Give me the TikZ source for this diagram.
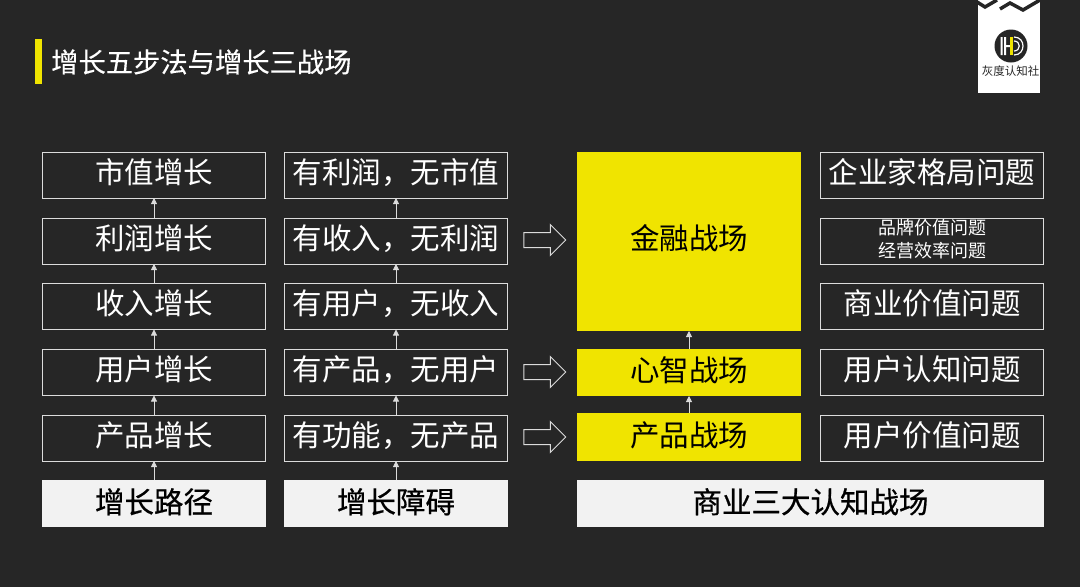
\documentclass[tikz,border=0pt]{standalone}
\usepackage{fontspec}
\setmainfont{Noto Sans CJK SC}
\newfontfamily\medfont[FakeBold=0.6]{Noto Sans CJK SC}
\newfontfamily\titlefont[FakeBold=0.3]{Noto Sans CJK SC}
\usetikzlibrary{shapes.arrows,arrows.meta}
\newcommand\fwc{^^^^ff0c}
\definecolor{bgc}{HTML}{262626}
\definecolor{ylw}{HTML}{F0E400}
\definecolor{lit}{HTML}{F2F2F2}
\definecolor{edge}{HTML}{DCDCDC}
\tikzset{
  x=1pt,y=-1pt,
  cellbase/.style={minimum width=223pt,inner sep=0pt,outer sep=0pt,align=center,font=\fontsize{29.5}{31}\selectfont},
  outline/.style={cellbase,draw=edge,line width=0.9pt,text=white,minimum height=46pt,text height=31pt,text depth=15pt},
  emptyoutline/.style={cellbase,draw=edge,line width=0.9pt,minimum height=46pt},
  smalltext/.style={inner sep=0pt,align=center,text=white,font=\fontsize{18}{22.5}\selectfont},
  solidy/.style={cellbase,fill=ylw,text=black},
  header/.style={cellbase,minimum width=224pt,fill=lit,text=black,minimum height=47pt,text height=33pt,text depth=14pt,font=\fontsize{29.5}{31}\selectfont\medfont},
  link/.style={draw=edge,line width=0.8pt,-{Triangle[length=6pt,width=6pt]}},
  hollow/.style={single arrow,draw=edge,line width=1pt,minimum height=42pt,text height=14pt,text depth=0pt,text width=20pt,single arrow head extend=8pt,single arrow tip angle=90,inner sep=0pt,outer sep=0pt}
}
\begin{document}
\begin{tikzpicture}
\useasboundingbox (0,0) rectangle (1080,587);
\fill[bgc] (0,0) rectangle (1080,587);
% title
\fill[ylw] (35,39) rectangle (42,84);
\node[anchor=west,inner sep=0pt,text=white,font=\fontsize{27.3}{30}\selectfont\titlefont] (title) at (51,62) {增长五步法与增长三战场};
% logo
\fill[white] (978,0) rectangle (1040,93);
\draw[bgc,line width=3.5pt,line join=miter] (977,2) -- (985,7) -- (997,0);
\draw[bgc,line width=3.5pt,line join=miter] (1000,9) -- (1010,3) -- (1023,10) -- (1040,0);
\fill[bgc] (1011,46) circle (16.5);
\fill[white] (1000.5,37) rectangle (1002.5,55) (1004,37) rectangle (1006,55) (1006,45) rectangle (1010,47);
\fill[ylw] (1010,37) rectangle (1013,55);
\draw[white,line width=1.2pt] (1014,37) .. controls (1026,37) and (1026,55) .. (1014,55);
\draw[white,line width=1.2pt] (1014,41) .. controls (1021,41) and (1021,51) .. (1014,51);
\node[inner sep=0pt,text=bgc,font=\fontsize{11.5}{12}\selectfont] (logotext) at (1010.5,71) {灰度认知社};
% column 1
\node[outline] (a5) at (154,175) {市值增长};
\node[outline] (a4) at (154,241) {利润增长};
\node[outline] (a3) at (154,306.5) {收入增长};
\node[outline] (a2) at (154,372.5) {用户增长};
\node[outline] (a1) at (154,438) {产品增长};
\node[header] (a0) at (154,503.5) {增长路径};
% column 2
\node[outline] (b5) at (396,175) {有利润\fwc 无市值};
\node[outline] (b4) at (396,241) {有收入\fwc 无利润};
\node[outline] (b3) at (396,306.5) {有用户\fwc 无收入};
\node[outline] (b2) at (396,372.5) {有产品\fwc 无用户};
\node[outline] (b1) at (396,438) {有功能\fwc 无产品};
\node[header] (b0) at (396,503.5) {增长障碍};
% column 3
\node[solidy,minimum width=224pt,text height=97pt,text depth=82pt] (c3) at (689,241.5) {金融战场};
\node[solidy,minimum width=224pt,text height=32pt,text depth=15pt] (c2) at (689,372.5) {心智战场};
\node[solidy,minimum width=224pt,text height=33pt,text depth=15pt] (c1) at (689,437) {产品战场};
\node[header,minimum width=467pt] (c0) at (810.5,503.5) {商业三大认知战场};
% column 4
\node[outline] (d5) at (932,175) {企业家格局问题};
\node[emptyoutline] (d4) at (932,241) {};
\node[smalltext] (d4t) at (932,239) {品牌价值问题\\经营效率问题};
\node[outline] (d3) at (932,306.5) {商业价值问题};
\node[outline] (d2) at (932,372.5) {用户认知问题};
\node[outline] (d1) at (932,438) {用户价值问题};
% connectors
\foreach \col in {a,b}{
  \draw[link] (\col0.north) -- (\col1.south);
  \draw[link] (\col1.north) -- (\col2.south);
  \draw[link] (\col2.north) -- (\col3.south);
  \draw[link] (\col3.north) -- (\col4.south);
  \draw[link] (\col4.north) -- (\col5.south);
}
\draw[link] (c1.north) -- (c2.south);
\draw[link] (c2.north) -- (c3.south);
% hollow arrows
\node[hollow] (h3) at (541,240) {};
\node[hollow] (h2) at (541,372) {};
\node[hollow] (h1) at (541,437) {};
\end{tikzpicture}
\end{document}
